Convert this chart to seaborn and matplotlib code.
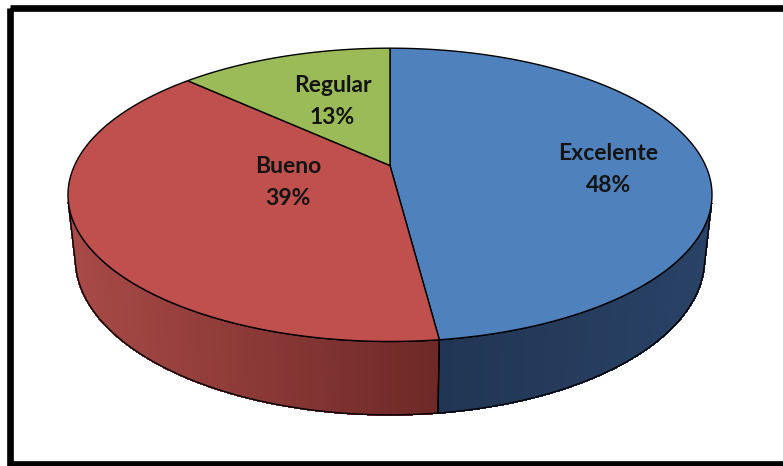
import numpy as np
import matplotlib
matplotlib.use("Agg")
import matplotlib.pyplot as plt
import seaborn as sns
from matplotlib.collections import PolyCollection
from matplotlib.patches import Polygon, Rectangle

# ---------------- data ----------------
categories = ["Excelente", "Bueno", "Regular"]
values = [48, 39, 13]
pct_labels = ["48%", "39%", "13%"]

# ---------------- style ----------------
TOP_COLORS = ["#4f81bd", "#c0504d", "#9bbb59"]
SIDE_LEFT = [(0.13, 0.21, 0.33), (0.66, 0.29, 0.28), (0.45, 0.55, 0.26)]
SIDE_RIGHT = [(0.16, 0.26, 0.40), (0.43, 0.16, 0.15), (0.40, 0.50, 0.22)]
LABEL_R = [0.70, 0.35, 0.50]
LABEL_DY = [10, -6, -5]

sns.set_theme(style="white")
plt.rcParams["font.family"] = ["Lato", "DejaVu Sans"]

W, H = 783, 466
fig = plt.figure(figsize=(W / 100, H / 100), dpi=100)
ax = fig.add_axes([0, 0, 1, 1])
ax.set_xlim(0, W)
ax.set_ylim(H, 0)
ax.axis("off")

# camera / perspective
CX, CY = 390.0, 165.5
F = 1411.9
DIST = 4.475
ALPHA = np.deg2rad(26.5)
DEPTH = 0.228


def project(r, theta, z):
    u = r * np.cos(theta)
    v = r * np.sin(theta)
    d = DIST + v * np.cos(ALPHA) - z * np.sin(ALPHA)
    yc = v * np.sin(ALPHA) + z * np.cos(ALPHA)
    return CX + F * u / d, CY - F * yc / d


def signed_area(pts):
    x = pts[:, 0]
    y = pts[:, 1]
    return 0.5 * np.sum(x * np.roll(y, -1) - np.roll(x, -1) * y)


def side_quad(ta, tb):
    p = [project(1, ta, 0), project(1, tb, 0), project(1, tb, -DEPTH), project(1, ta, -DEPTH)]
    return np.array(p)


front_sign = np.sign(signed_area(side_quad(np.deg2rad(271), np.deg2rad(269))))

vals = np.array(values, dtype=float)
frac = vals / vals.sum()
bounds = np.deg2rad(90 - 360 * np.concatenate([[0], np.cumsum(frac)]))

# ---------- side walls ----------
for i in range(len(values)):
    t0, t1 = bounds[i], bounds[i + 1]
    n = max(int(abs(np.rad2deg(t1 - t0)) * 2), 4)
    th = np.linspace(t0, t1, n + 1)
    quads = []
    vis_idx = []
    for j in range(n):
        q = side_quad(th[j], th[j + 1])
        if np.sign(signed_area(q)) == front_sign:
            quads.append(q)
            vis_idx.append(j)
    if not quads:
        continue
    xs = np.array([q[:, 0].mean() for q in quads])
    t = (xs - xs.min()) / max(xs.max() - xs.min(), 1e-6)
    c0 = np.array(SIDE_LEFT[i])
    c1 = np.array(SIDE_RIGHT[i])
    cols = [tuple(c0 + (c1 - c0) * tt) for tt in t]
    ax.add_collection(PolyCollection(quads, facecolors=cols, edgecolors=cols,
                                     linewidths=0.8, antialiaseds=False, zorder=2))
    # outline of visible wall
    a, b = vis_idx[0], vis_idx[-1] + 1
    tv = th[a:b + 1]
    top = np.array([project(1, tt, 0) for tt in tv])
    bot = np.array([project(1, tt, -DEPTH) for tt in tv[::-1]])
    outline = np.vstack([top, bot])
    ax.add_patch(Polygon(outline, closed=True, fill=False, edgecolor="black",
                         linewidth=1.0, zorder=3))

# ---------- top faces ----------
center = project(0, 0, 0)
for i in range(len(values)):
    t0, t1 = bounds[i], bounds[i + 1]
    n = max(int(abs(np.rad2deg(t1 - t0)) * 2), 4)
    th = np.linspace(t0, t1, n + 1)
    arc = np.array([project(1, tt, 0) for tt in th])
    poly = np.vstack([[center], arc])
    ax.add_patch(Polygon(poly, closed=True, facecolor=TOP_COLORS[i],
                         edgecolor="black", linewidth=1.0, zorder=4))

# ---------- labels ----------
for i in range(len(values)):
    mid = 0.5 * (bounds[i] + bounds[i + 1])
    lx, ly = project(LABEL_R[i], mid, 0)
    ly += LABEL_DY[i]
    ax.text(lx, ly - 16, categories[i], ha="center", va="center",
            fontsize=16.5, fontweight="bold", color="#141414", zorder=5)
    ax.text(lx, ly + 16, pct_labels[i], ha="center", va="center",
            fontsize=16.5, fontweight="bold", color="#141414", zorder=5)

# ---------- frame ----------
ax.add_patch(Rectangle((10, 8), 800, 456, fill=False, edgecolor="black",
                       linewidth=4.8, clip_on=False, zorder=6))

fig.savefig("out.png", dpi=100)
